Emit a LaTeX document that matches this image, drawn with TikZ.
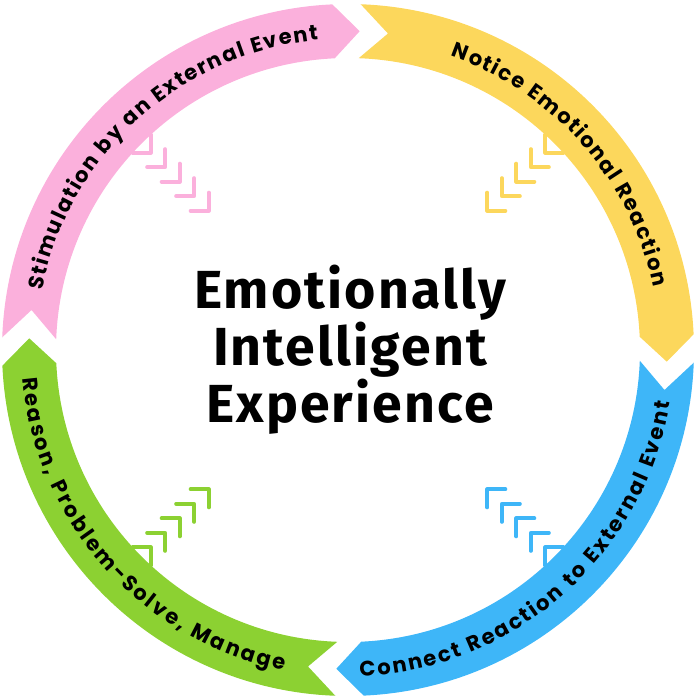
\documentclass[tikz,border=0pt]{standalone}
\usepackage{fontspec}
\newfontfamily\bandfont{Poppins}
\newfontfamily\titlefont{Fira Sans}[LetterSpace=4]
\usetikzlibrary{decorations.text}

\definecolor{pinkband}{HTML}{FBB0DC}
\definecolor{yellowband}{HTML}{FCD75C}
\definecolor{blueband}{HTML}{3EB6F8}
\definecolor{greenband}{HTML}{8CD132}

\begin{document}
\begin{tikzpicture}[
    line cap=round,
    line join=round,
    band/.style={
        fill=#1,
        draw=none
    },
    chevron/.style={
        draw=#1,
        line width=2.3pt
    },
    label along/.style={
        decorate,
        decoration={
            text along path,
            text align={fit to path},
            text={|\bandfont\bfseries\fontsize{12}{14}\selectfont|#1}
        }
    }
]

% -------------------------------------------------
% Parameters
% -------------------------------------------------

\def\Ro{6.92}   % outer radius of the ring
\def\Ri{5.84}   % inner radius of the ring
\def\Rm{6.38}   % middle radius (arrow tips, notches)
\def\Rt{6.23}   % text baseline, upper half
\def\Rb{6.53}   % text baseline, lower half
\def\arm{0.36}  % arm length of the small chevrons

\useasboundingbox (-6.96,-7.0) rectangle (7.04,7.0);

\coordinate (O) at (0,0);   % centre of the ring

% -------------------------------------------------
% Small chevrons pointing to the centre
% -------------------------------------------------

\foreach \d in {3.94,4.35,4.76,5.17,5.58}{
    \draw[chevron=pinkband]   (135:\d) ++(-\arm,0) -- ++(\arm,0) -- ++(0,\arm);
    \draw[chevron=yellowband] (45:\d)  ++(\arm,0)  -- ++(-\arm,0) -- ++(0,\arm);
    \draw[chevron=blueband]   (-45:\d) ++(\arm,0)  -- ++(-\arm,0) -- ++(0,-\arm);
    \draw[chevron=greenband]  (225:\d) ++(-\arm,0) -- ++(\arm,0) -- ++(0,-\arm);
}

% -------------------------------------------------
% Ring segments (clockwise arrows)
% -------------------------------------------------

% Stimulation
\fill[band=pinkband]
    (177.9:\Ro)
    arc[start angle=177.9, end angle=92.6, radius=\Ro]
    -- (87.9:\Rm) -- (92.6:\Ri)
    arc[start angle=92.6, end angle=177.9, radius=\Ri]
    -- (172.8:\Rm) -- cycle;

% Notice
\fill[band=yellowband]
    (87.9:\Ro)
    arc[start angle=87.9, end angle=2.6, radius=\Ro]
    -- (-2.1:\Rm) -- (2.6:\Ri)
    arc[start angle=2.6, end angle=87.9, radius=\Ri]
    -- (82.8:\Rm) -- cycle;

% Connect
\fill[band=blueband]
    (-2.1:\Ro)
    arc[start angle=-2.1, end angle=-87.4, radius=\Ro]
    -- (-92.1:\Rm) -- (-87.4:\Ri)
    arc[start angle=-87.4, end angle=-2.1, radius=\Ri]
    -- (-7.2:\Rm) -- cycle;

% Reason
\fill[band=greenband]
    (267.9:\Ro)
    arc[start angle=267.9, end angle=182.6, radius=\Ro]
    -- (177.9:\Rm) -- (182.6:\Ri)
    arc[start angle=182.6, end angle=267.9, radius=\Ri]
    -- (262.8:\Rm) -- cycle;

% -------------------------------------------------
% Labels along the ring
% -------------------------------------------------

\path[label along={Stimulation by an External Event}]
    (169:\Rt) arc[start angle=169, end angle=95.5, radius=\Rt];

\path[label along={Notice Emotional Reaction}]
    (70.7:\Rt) arc[start angle=70.7, end angle=11.6, radius=\Rt];

\path[label along={Connect Reaction to External Event}]
    (-87.9:\Rb) arc[start angle=-87.9, end angle=-9.3, radius=\Rb];

\path[label along={Reason, Problem-Solve, Manage}]
    (185:\Rb) arc[start angle=185, end angle=258.7, radius=\Rb];

% -------------------------------------------------
% Title in the middle
% -------------------------------------------------

\node (title) at (0.04,0)
    [font=\titlefont\bfseries\fontsize{30.5}{30}\selectfont, align=center]
    {Emotionally\\Intelligent\\Experience};

\end{tikzpicture}
\end{document}
